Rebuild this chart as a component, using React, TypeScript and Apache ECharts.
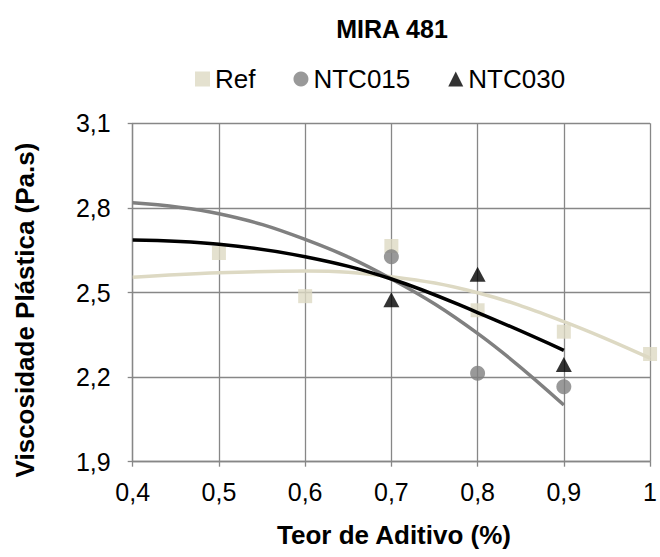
import React, { useEffect, useRef } from "react";
import * as echarts from "echarts";

const FONT = "'Liberation Sans', Arial, sans-serif";

const seriesNames = ["Ref", "NTC015", "NTC030"];
const seriesColors = ["#DDD9C3", "#808080", "#000000"];

// measured points
const refX = [0.5, 0.6, 0.7, 0.8, 0.9, 1.0];
const refY = [2.64, 2.487, 2.665, 2.437, 2.361, 2.282];
const ntc015X = [0.7, 0.8, 0.9];
const ntc015Y = [2.627, 2.214, 2.166];
const ntc030X = [0.7, 0.8, 0.9];
const ntc030Y = [2.474, 2.565, 2.245];

// trend lines
const refTrendX = [0.4, 0.5, 0.6, 0.7, 0.8, 0.9, 1.0];
const refTrendY = [2.554, 2.57, 2.576, 2.556, 2.499, 2.397, 2.267];
const ntc015TrendX = [0.4, 0.5, 0.6, 0.7, 0.8, 0.9];
const ntc015TrendY = [2.818, 2.779, 2.688, 2.548, 2.355, 2.101];
const ntc030TrendX = [0.4, 0.5, 0.6, 0.7, 0.8, 0.9];
const ntc030TrendY = [2.686, 2.671, 2.627, 2.548, 2.429, 2.295];

const xTicksMin = 0.4;
const xTicksMax = 1.0;
const yTicksMin = 1.9;
const yTicksMax = 3.1;

const pair = (xs: number[], ys: number[]) => xs.map((x, i) => [x, ys[i]]);
const fmt = (v: number) => String(Math.round(v * 10) / 10).replace(".", ",");

export default function App() {
  const ref = useRef<HTMLDivElement>(null);
  useEffect(() => {
    if (!ref.current) return;
    const chart = echarts.init(ref.current, null, { renderer: "svg" });
    const gridColor = "#878787";
    chart.setOption({
      animation: false,
      backgroundColor: "#ffffff",
      textStyle: { fontFamily: FONT },
      grid: { left: 132.7, right: 5, top: 123.3, bottom: 95.3, containLabel: false },
      legend: {
        left: 190,
        top: 61,
        itemWidth: 15,
        itemHeight: 15,
        itemGap: 38,
        textStyle: { fontFamily: FONT, fontSize: 26, color: "#000" },
        data: [
          { name: seriesNames[0], icon: "rect" },
          { name: seriesNames[1], icon: "circle" },
          { name: seriesNames[2], icon: "triangle" },
        ],
      },
      graphic: [
        {
          type: "text",
          x: 392,
          y: 29,
          style: {
            text: "MIRA 481",
            font: `bold 25px ${FONT}`,
            fill: "#000",
            align: "center",
            verticalAlign: "middle",
          },
        },
        {
          type: "text",
          x: 394,
          y: 535,
          style: {
            text: "Teor de Aditivo (%)",
            font: `bold 26px ${FONT}`,
            fill: "#000",
            align: "center",
            verticalAlign: "middle",
          },
        },
        {
          type: "text",
          x: 25,
          y: 310,
          rotation: Math.PI / 2,
          style: {
            text: "Viscosidade Plástica (Pa.s)",
            font: `bold 26px ${FONT}`,
            fill: "#000",
            align: "center",
            verticalAlign: "middle",
          },
        },
      ],
      xAxis: {
        type: "value",
        min: xTicksMin,
        max: xTicksMax,
        interval: 0.1,
        axisLine: { show: true, lineStyle: { color: gridColor, width: 1.3 } },
        axisTick: { show: true, length: 5, lineStyle: { color: gridColor, width: 1.3 } },
        splitLine: { show: true, lineStyle: { color: gridColor, width: 1.3 } },
        axisLabel: { formatter: fmt, fontSize: 25, color: "#000", margin: 18, fontFamily: FONT },
      },
      yAxis: {
        type: "value",
        min: yTicksMin,
        max: yTicksMax,
        interval: 0.3,
        axisLine: { show: true, lineStyle: { color: gridColor, width: 1.3 } },
        axisTick: { show: true, length: 5, lineStyle: { color: gridColor, width: 1.3 } },
        splitLine: { show: true, lineStyle: { color: gridColor, width: 1.3 } },
        axisLabel: { formatter: fmt, fontSize: 25, color: "#000", margin: 22, fontFamily: FONT },
      },
      series: [
        {
          name: seriesNames[0],
          type: "scatter",
          symbol: "rect",
          symbolSize: 14,
          itemStyle: { color: seriesColors[0] },
          data: pair(refX, refY),
          z: 2,
        },
        {
          name: seriesNames[1],
          type: "scatter",
          symbol: "circle",
          symbolSize: 15,
          itemStyle: { color: seriesColors[1] },
          data: pair(ntc015X, ntc015Y),
          z: 3,
        },
        {
          name: seriesNames[2],
          type: "scatter",
          symbol: "triangle",
          symbolSize: [16, 15],
          itemStyle: { color: seriesColors[2] },
          data: pair(ntc030X, ntc030Y),
          z: 4,
        },
        {
          name: "Ref trend",
          type: "line",
          smooth: 0.4,
          showSymbol: false,
          symbol: "none",
          lineStyle: { color: seriesColors[0], width: 3.5 },
          data: pair(refTrendX, refTrendY),
          z: 5,
        },
        {
          name: "NTC015 trend",
          type: "line",
          smooth: 0.4,
          showSymbol: false,
          symbol: "none",
          lineStyle: { color: seriesColors[1], width: 3.5 },
          data: pair(ntc015TrendX, ntc015TrendY),
          z: 6,
        },
        {
          name: "NTC030 trend",
          type: "line",
          smooth: 0.4,
          showSymbol: false,
          symbol: "none",
          lineStyle: { color: seriesColors[2], width: 3.5 },
          data: pair(ntc030TrendX, ntc030TrendY),
          z: 7,
        },
      ],
    });
    return () => chart.dispose();
  }, []);
  return (
    <div
      ref={ref}
      style={{ position: "fixed", left: 0, top: 0, width: 660, height: 557, background: "#fff" }}
    />
  );
}
